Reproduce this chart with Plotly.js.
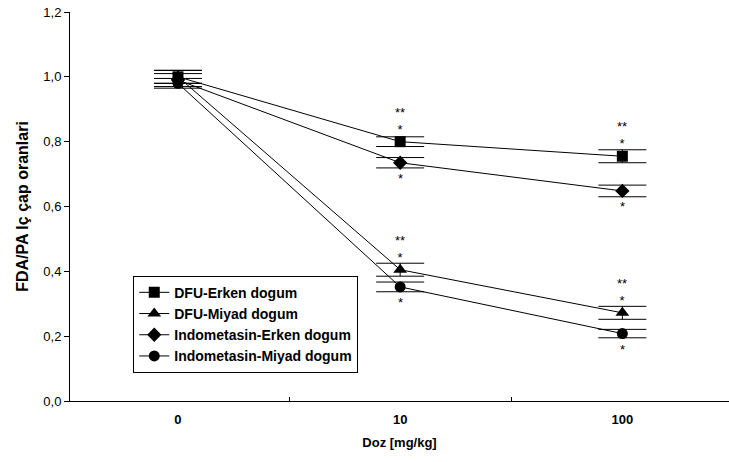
<!DOCTYPE html>
<html>
<head>
<meta charset="utf-8">
<script src="https://cdn.plot.ly/plotly-3.0.1.min.js"></script>
<style>html,body{margin:0;padding:0;background:#fff;}#chart{width:729px;height:462px;}</style>
</head>
<body>
<div id="chart"></div>
<script>
var doses = ['0', '10', '100'];
var seriesNames = ['DFU-Erken dogum', 'DFU-Miyad dogum', 'Indometasin-Erken dogum', 'Indometasin-Miyad dogum'];
var dfuErken = [1.00, 0.80, 0.755];
var dfuErkenErr = [0.02, 0.015, 0.02];
var dfuMiyad = [1.00, 0.405, 0.272];
var dfuMiyadErr = [0.02, 0.02, 0.02];
var indoErken = [0.99, 0.735, 0.648];
var indoErkenErr = [0.02, 0.016, 0.018];
var indoMiyad = [0.98, 0.352, 0.208];
var indoMiyadErr = [0.015, 0.015, 0.013];
var symbols = ['square', 'triangle-up', 'diamond', 'circle'];
// significance labels
var sigDose = ['10', '10', '10', '10', '100', '100', '100', '100'];
var sigSeries = [0, 2, 1, 3, 0, 2, 1, 3];
var sigText = ['**<br>*', '*', '**<br>*', '*', '**<br>*', '*', '**<br>*', '*'];
var sigAbove = [true, false, true, false, true, false, true, false];

var allVals = [dfuErken, dfuMiyad, indoErken, indoMiyad];
var allErr = [dfuErkenErr, dfuMiyadErr, indoErkenErr, indoMiyadErr];
var FONT = 'Liberation Sans, Arial, sans-serif';

var traces = allVals.map(function (vals, i) {
  return {
    x: doses, y: vals, name: seriesNames[i], type: 'scatter', mode: 'lines+markers',
    line: {color: '#000', width: 1},
    marker: {symbol: symbols[i], size: [11, 12, 11, 11][i], color: '#000'},
    error_y: {type: 'data', array: allErr[i], visible: true, color: '#000', thickness: 1, width: 24}
  };
});

var annotations = sigDose.map(function (d, k) {
  var s = sigSeries[k];
  var idx = doses.indexOf(d);
  return {
    x: idx, y: allVals[s][idx], xref: 'x', yref: 'y', text: sigText[k], showarrow: false,
    xanchor: 'center', yanchor: sigAbove[k] ? 'bottom' : 'top', yshift: sigAbove[k] ? 3 : -6,
    font: {family: FONT, size: 13, color: '#000'}
  };
});

var layout = {
  width: 729, height: 462,
  margin: {l: 70, r: 0, t: 12, b: 61},
  paper_bgcolor: '#fff', plot_bgcolor: '#fff',
  separators: ', ',
  font: {family: FONT, size: 12, color: '#000'},
  showlegend: true,
  legend: {
    x: 0.096, y: 0.322, xanchor: 'left', yanchor: 'top',
    bgcolor: '#fff', bordercolor: '#000', borderwidth: 1,
    font: {family: FONT, size: 14, color: '#000', weight: 'bold'},
    tracegroupgap: 0, itemwidth: 30
  },
  xaxis: {
    type: 'category', range: [-0.486, 2.48],
    showline: true, linecolor: '#000', linewidth: 1, mirror: false,
    showgrid: false, zeroline: false,
    ticks: 'inside', tickson: 'boundaries', ticklen: 4, tickcolor: '#000',
    ticklabelstandoff: 6,
    tickfont: {family: FONT, size: 13, weight: 'bold'},
    title: {text: '<b>Doz [mg/kg]</b>', font: {family: FONT, size: 13}, standoff: 12}
  },
  yaxis: {
    range: [0, 1.2], dtick: 0.2, tickformat: '.1f',
    showline: true, linecolor: '#000', linewidth: 1,
    showgrid: false, zeroline: false,
    ticks: 'outside', ticklen: 5, tickcolor: '#000',
    tickfont: {family: FONT, size: 13},
    title: {text: '<b>FDA/PA Iç çap oranlari</b>', font: {family: FONT, size: 16}, standoff: 10}
  },
  annotations: annotations
};

Plotly.newPlot('chart', traces, layout, {displayModeBar: false, staticPlot: true});
</script>
</body>
</html>
